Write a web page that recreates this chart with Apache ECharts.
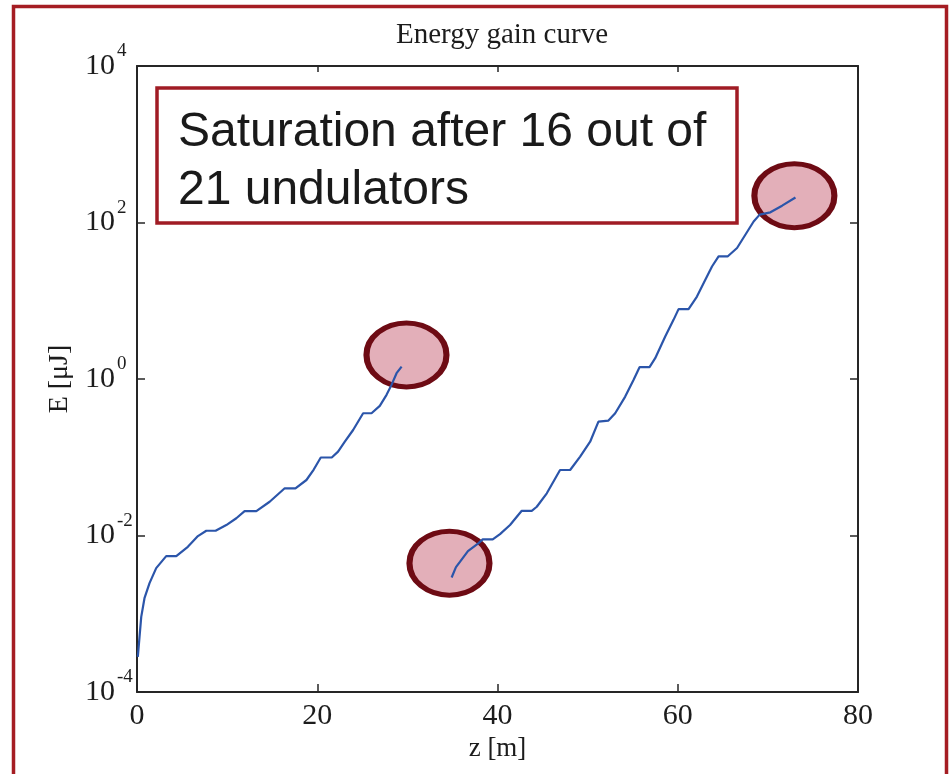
<!DOCTYPE html>
<html>
<head>
<meta charset="utf-8">
<script src="https://cdn.jsdelivr.net/npm/echarts@6/dist/echarts.min.js"></script>
<style>
html,body{margin:0;padding:0;background:#fff;}
#chart{width:952px;height:774px;}
</style>
</head>
<body>
<div id="chart"></div>
<script>
// z [m] and E [uJ] for the first section (before the chicane)
var z1 = [0.09, 0.47, 0.83, 1.39, 2.13, 3.24, 4.36, 5.64, 6.76, 7.69, 8.72, 9.91, 11.02, 11.94, 13.24, 14.72, 16.39, 17.58, 18.8, 19.61, 20.39, 21.61, 22.31, 23.06, 23.98, 25.09, 26.02, 26.94, 27.69, 28.24, 28.8, 29.36];
var e1 = [2.81e-4, 9.12e-4, 1.58e-3, 2.46e-3, 3.83e-3, 5.45e-3, 5.45e-3, 7.16e-3, 9.82e-3, 1.15e-2, 1.15e-2, 1.36e-2, 1.66e-2, 2.05e-2, 2.05e-2, 2.70e-2, 4.01e-2, 4.01e-2, 5.12e-2, 6.97e-2, 9.93e-2, 9.93e-2, 0.118, 0.158, 0.223, 0.365, 0.365, 0.453, 0.627, 0.841, 1.186, 1.442];
// second section
var z2 = [34.91, 35.39, 35.83, 36.72, 37.87, 38.36, 39.47, 40.28, 41.39, 42.69, 43.8, 44.36, 45.47, 46.94, 48.06, 49.17, 50.28, 51.2, 52.31, 53.06, 54.17, 55.09, 55.76, 56.87, 57.5, 58.61, 59.53, 60.09, 61.2, 62.13, 63.06, 63.8, 64.53, 65.53, 66.58, 67.5, 68.42, 69.09, 70.28, 71.58, 73.06];
var e2 = [2.91e-3, 3.94e-3, 4.60e-3, 6.31e-3, 7.93e-3, 8.91e-3, 8.91e-3, 1.04e-2, 1.36e-2, 2.07e-2, 2.07e-2, 2.33e-2, 3.46e-2, 6.87e-2, 6.87e-2, 0.102, 0.158, 0.285, 0.294, 0.365, 0.596, 0.973, 1.416, 1.416, 1.845, 3.49, 5.70, 7.82, 7.82, 11.3, 18.5, 27.4, 36.8, 36.8, 47.2, 69.8, 103, 126, 135, 164, 209];
// highlighted points (ellipse centres)
var markZ = [29.9, 34.67, 72.94];
var markE = [2.03, 4.43e-3, 220];
var xTicks = [0, 20, 40, 60, 80];
var yTicks = [1e-4, 1e-2, 1, 1e2, 1e4];
var titleText = 'Energy gain curve';
var xName = 'z [m]';
var yName = 'E [\u03bcJ]';
var noteText = 'Saturation after 16 out of\n21 undulators';

function pairs(a, b) { return a.map(function (v, i) { return [v, b[i]]; }); }

var serif = 'Liberation Serif, Times New Roman, serif';
var axisColor = '#262626';
var textColor = '#1c1c1c';

var chart = echarts.init(document.getElementById('chart'), null, {renderer: 'canvas'});

var yLabel = {
  show: true,
  inside: false,
  align: 'left',
  margin: 52,
  customValues: yTicks,
  formatter: function (v) {
    var ex = Math.round(Math.log10(v));
    return '{b|10}{s|' + ex + '}';
  },
  rich: {
    b: {fontFamily: serif, fontSize: 30, color: textColor, lineHeight: 48, verticalAlign: 'middle'},
    s: {fontFamily: serif, fontSize: 19, color: textColor, lineHeight: 19, verticalAlign: 'top', padding: [0, 0, 0, 2]}
  }
};

var option = {
  backgroundColor: '#ffffff',
  animation: false,
  title: {
    text: titleText,
    left: 497,
    top: 16,
    textAlign: 'center',
    textStyle: {fontFamily: serif, fontSize: 29, fontWeight: 'normal', color: textColor}
  },
  grid: {left: 137, top: 66, width: 721, height: 626, containLabel: false, show: false},
  xAxis: [{
    type: 'value', position: 'bottom', min: 0, max: 80, interval: 20,
    name: xName, nameLocation: 'middle', nameGap: 37,
    nameTextStyle: {fontFamily: serif, fontSize: 27, color: textColor},
    axisLine: {show: true, onZero: false, lineStyle: {color: axisColor, width: 2}},
    axisTick: {show: true, inside: true, length: 8, lineStyle: {color: axisColor, width: 1.5}},
    axisLabel: {show: true, margin: 9, fontFamily: serif, fontSize: 30, color: textColor},
    splitLine: {show: false}
  }, {
    type: 'value', position: 'top', min: 0, max: 80, interval: 20,
    axisLine: {show: true, onZero: false, lineStyle: {color: axisColor, width: 2}},
    axisTick: {show: true, inside: true, length: 6, lineStyle: {color: axisColor, width: 1.5}},
    axisLabel: {show: false},
    splitLine: {show: false}
  }],
  yAxis: [{
    type: 'log', logBase: 10, position: 'left', min: 1e-4, max: 1e4,
    name: yName, nameLocation: 'middle', nameGap: 61, nameRotate: 90,
    nameTextStyle: {fontFamily: serif, fontSize: 28, color: textColor},
    axisLine: {show: true, onZero: false, lineStyle: {color: axisColor, width: 2}},
    axisTick: {show: true, inside: true, length: 8, customValues: yTicks, lineStyle: {color: axisColor, width: 1.5}},
    axisLabel: yLabel,
    minorTick: {show: false},
    splitLine: {show: false}
  }, {
    type: 'log', logBase: 10, position: 'right', min: 1e-4, max: 1e4,
    axisLine: {show: true, onZero: false, lineStyle: {color: axisColor, width: 2}},
    axisTick: {show: true, inside: true, length: 8, customValues: yTicks, lineStyle: {color: axisColor, width: 1.5}},
    axisLabel: {show: false},
    splitLine: {show: false}
  }],
  series: [{
    type: 'scatter', xAxisIndex: 0, yAxisIndex: 0, z: 1,
    data: pairs(markZ, markE),
    symbol: 'circle', symbolSize: [80, 64],
    itemStyle: {color: '#e3afb9', borderColor: '#6e0b14', borderWidth: 5.5, opacity: 1},
    emphasis: {disabled: true}, silent: true
  }, {
    type: 'line', xAxisIndex: 0, yAxisIndex: 0, z: 3,
    data: pairs(z1, e1), showSymbol: false, smooth: false,
    lineStyle: {color: '#2b55aa', width: 2.2}
  }, {
    type: 'line', xAxisIndex: 0, yAxisIndex: 0, z: 3,
    data: pairs(z2, e2), showSymbol: false, smooth: false,
    lineStyle: {color: '#2b55aa', width: 2.2}
  }],
  graphic: [{
    type: 'rect', z: 100,
    shape: {x: 13.5, y: 6.5, width: 933, height: 800},
    style: {fill: 'none', stroke: '#a51d23', lineWidth: 3.5}
  }, {
    type: 'rect', z: 100,
    shape: {x: 157, y: 88, width: 580, height: 135},
    style: {fill: '#ffffff', stroke: '#a01c24', lineWidth: 3.5}
  }, {
    type: 'text', z: 101, x: 178, y: 104,
    style: {text: noteText, fontFamily: 'Liberation Sans, Arial, sans-serif', fontSize: 48, lineHeight: 58, fill: '#1a1a1a'}
  }]
};
chart.setOption(option);
</script>
</body>
</html>
